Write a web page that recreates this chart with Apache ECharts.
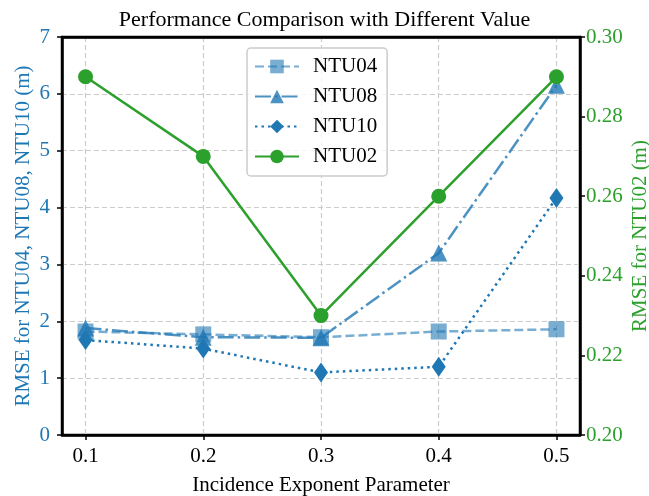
<!DOCTYPE html>
<html>
<head>
<meta charset="utf-8">
<script src="https://cdn.jsdelivr.net/npm/echarts@6/dist/echarts.min.js"></script>
<style>
  html, body { margin: 0; padding: 0; background: #fff; }
  #chart { width: 649px; height: 496px; }
</style>
</head>
<body>
<div id="chart"></div>
<script>
// x positions (incidence exponent parameter)
const params = [0.1, 0.2, 0.3, 0.4, 0.5];
// left axis series
const ntu04 = [1.82, 1.77, 1.72, 1.82, 1.86];
const ntu08 = [1.88, 1.72, 1.71, 3.2, 6.15];
const ntu10 = [1.67, 1.52, 1.1, 1.2, 4.17];
// right axis series
const ntu02 = [0.29, 0.27, 0.23, 0.26, 0.29];

const font = "Liberation Serif";
const blue = "#1f77b4";
const green = "#2ca02c";
const fs = 21;

function pairs(vals) {
  return params.map((x, i) => [x, vals[i]]);
}

const chart = echarts.init(document.getElementById("chart"));

chart.setOption({
  animation: false,
  textStyle: { fontFamily: font },
  title: {
    text: "Performance Comparison with Different Value",
    left: "center",
    top: 4,
    textStyle: { fontFamily: font, fontSize: 22, fontWeight: "normal", color: "#000" }
  },
  legend: {
    orient: "vertical",
    left: 247,
    top: 48,
    itemWidth: 44,
    itemHeight: 17,
    itemGap: 9,
    padding: [8, 10, 9, 7],
    borderColor: "#ccc",
    borderWidth: 1.5,
    borderRadius: 4,
    backgroundColor: "rgba(255,255,255,0.8)",
    textStyle: { fontFamily: font, fontSize: fs, color: "#000", padding: [0, 0, 0, 9] },
    data: ["NTU04", "NTU08", "NTU10", "NTU02"]
  },
  grid: {
    left: 62, right: 69, top: 37, bottom: 61,
    outerBoundsMode: "none",
    containLabel: false,
    show: true,
    borderColor: "#000",
    borderWidth: 2.5
  },
  xAxis: [
    {
      type: "value",
      min: 0.08,
      max: 0.52,
      name: "Incidence Exponent Parameter",
      nameLocation: "middle",
      nameGap: 40,
      nameMoveOverlap: false,
      nameTextStyle: { fontFamily: font, fontSize: fs, color: "#000" },
      axisLine: { show: true, lineStyle: { color: "#000", width: 2.5 } },
      axisTick: { show: true, length: 5, lineStyle: { color: "#000", width: 1.5 }, customValues: params },
      axisLabel: { fontFamily: font, fontSize: fs, color: "#000", margin: 11, customValues: params,
        formatter: v => v.toFixed(1) },
      splitLine: { show: true, lineStyle: { color: "#ccc", type: [5, 3], width: 1.2 } }
    },
    {
      // top frame line drawn over the grid lines
      type: "value",
      position: "top",
      min: 0.08,
      max: 0.52,
      axisLine: { show: true, onZero: false, lineStyle: { color: "#000", width: 2.5 } },
      axisTick: { show: false },
      axisLabel: { show: false },
      splitLine: { show: false }
    }
  ],
  yAxis: [
    {
      type: "value",
      min: 0,
      max: 7,
      interval: 1,
      position: "left",
      name: "RMSE for NTU04, NTU08, NTU10 (m)",
      nameLocation: "middle",
      nameRotate: 90,
      nameGap: 28,
      nameMoveOverlap: false,
      nameTextStyle: { fontFamily: font, fontSize: fs, color: blue },
      axisLine: { show: true, lineStyle: { color: "#000", width: 2.5 } },
      axisTick: { show: true, length: 5, lineStyle: { color: "#000", width: 1.5 } },
      axisLabel: { fontFamily: font, fontSize: fs, color: blue, margin: 12 },
      splitLine: { show: true, lineStyle: { color: "#ccc", type: [5, 3], width: 1.2 } }
    },
    {
      type: "value",
      min: 0.2,
      max: 0.3,
      interval: 0.02,
      position: "right",
      name: "RMSE for NTU02 (m)",
      nameLocation: "middle",
      nameRotate: 90,
      nameGap: 50,
      nameMoveOverlap: false,
      nameTextStyle: { fontFamily: font, fontSize: fs, color: green },
      axisLine: { show: true, lineStyle: { color: "#000", width: 2.5 } },
      axisTick: { show: true, length: 5, lineStyle: { color: "#000", width: 1.5 } },
      axisLabel: { fontFamily: font, fontSize: fs, color: green, margin: 6,
        formatter: v => v.toFixed(2) },
      splitLine: { show: false }
    }
  ],
  series: [
    {
      name: "NTU04",
      type: "line",
      yAxisIndex: 0,
      data: pairs(ntu04),
      symbol: "rect",
      symbolSize: 16,
      color: "rgba(31,119,180,0.6)",
      itemStyle: { color: "rgba(31,119,180,0.6)" },
      lineStyle: { width: 2.5, type: [9, 4], color: "rgba(31,119,180,0.6)" }
    },
    {
      name: "NTU08",
      type: "line",
      yAxisIndex: 0,
      data: pairs(ntu08),
      symbol: "triangle",
      symbolSize: 17,
      color: "rgba(31,119,180,0.8)",
      itemStyle: { color: "rgba(31,119,180,0.8)" },
      lineStyle: { width: 2.5, type: [16, 4, 2.5, 4], color: "rgba(31,119,180,0.8)" }
    },
    {
      name: "NTU10",
      type: "line",
      yAxisIndex: 0,
      data: pairs(ntu10),
      symbol: "diamond",
      symbolSize: [14, 20],
      color: blue,
      itemStyle: { color: blue },
      lineStyle: { width: 2.5, type: [2.5, 4], color: blue }
    },
    {
      name: "NTU02",
      type: "line",
      yAxisIndex: 1,
      data: pairs(ntu02),
      symbol: "circle",
      symbolSize: 15,
      color: green,
      itemStyle: { color: green },
      lineStyle: { width: 2.5, color: green }
    }
  ]
});
</script>
</body>
</html>
